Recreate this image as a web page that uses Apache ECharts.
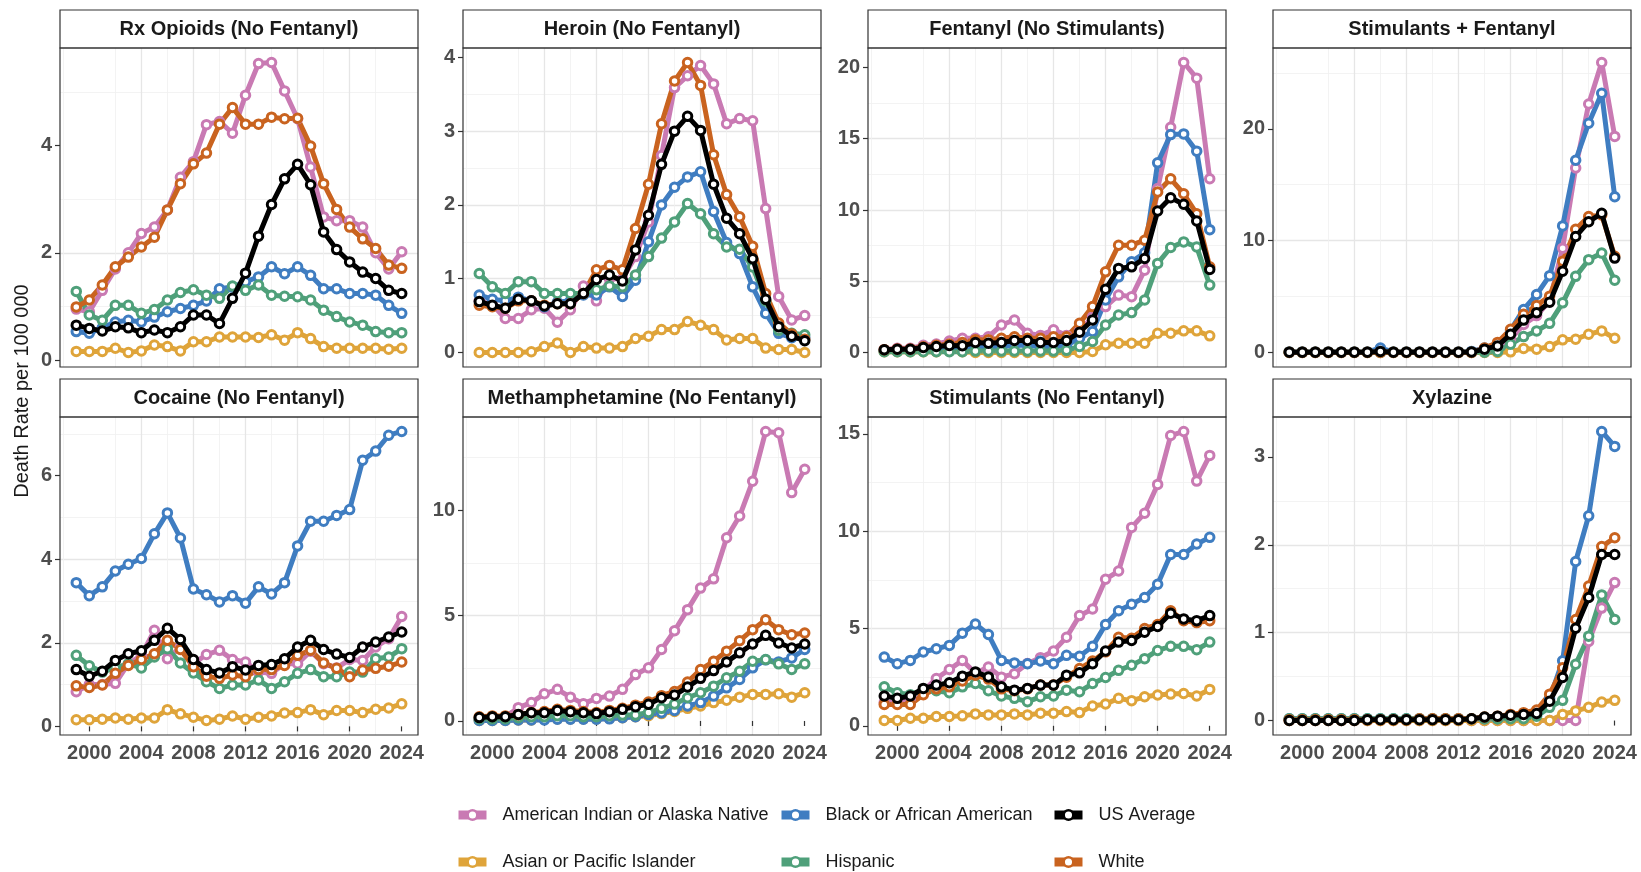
<!DOCTYPE html>
<html><head><meta charset="utf-8">
<script src="https://cdn.jsdelivr.net/npm/echarts@6/dist/echarts.min.js"></script>
<style>html,body{margin:0;padding:0;background:#fff}#c{width:1641px;height:872px}</style>
</head><body><div id="c"></div>
<script>
const years = [1999,2000,2001,2002,2003,2004,2005,2006,2007,2008,2009,2010,2011,2012,2013,2014,2015,2016,2017,2018,2019,2020,2021,2022,2023,2024];
const groups = ['American Indian or Alaska Native','Asian or Pacific Islander','Black or African American','Hispanic','White','US Average'];
const panelTitles = ['Rx Opioids (No Fentanyl)','Heroin (No Fentanyl)','Fentanyl (No Stimulants)','Stimulants + Fentanyl','Cocaine (No Fentanyl)','Methamphetamine (No Fentanyl)','Stimulants (No Fentanyl)','Xylazine'];
const yMajorSteps = [2,1,5,10,2,5,5,1];
const xTickLabels = [2000,2004,2008,2012,2016,2020,2024];
const yAxisTitle = 'Death Rate per 100 000';

// Rx Opioids (No Fentanyl)
const rx_AIAN = [0.95,0.9,1.3,1.7,2.0,2.36,2.48,2.8,3.41,3.7,4.39,4.45,4.23,4.94,5.53,5.55,5.02,4.5,3.6,2.67,2.6,2.6,2.48,2.0,1.7,2.02];
const rx_Asian = [0.16,0.16,0.16,0.22,0.14,0.17,0.28,0.25,0.17,0.34,0.34,0.43,0.43,0.43,0.42,0.47,0.37,0.51,0.40,0.25,0.22,0.22,0.22,0.22,0.20,0.22];
const rx_Black = [0.53,0.50,0.6,0.71,0.74,0.71,0.8,0.9,0.96,1.02,1.1,1.33,1.36,1.46,1.55,1.74,1.61,1.74,1.58,1.33,1.33,1.24,1.24,1.21,1.02,0.87];
const rx_Hisp = [1.28,0.84,0.74,1.02,1.02,0.87,0.94,1.12,1.26,1.31,1.21,1.15,1.38,1.30,1.40,1.21,1.19,1.18,1.12,0.93,0.81,0.71,0.65,0.53,0.51,0.51];
const rx_White = [0.99,1.12,1.40,1.74,1.92,2.11,2.29,2.80,3.29,3.66,3.86,4.40,4.71,4.40,4.40,4.53,4.50,4.51,3.99,3.29,2.81,2.48,2.26,2.08,1.77,1.71];
const rx_US = [0.65,0.59,0.54,0.62,0.60,0.51,0.56,0.51,0.62,0.84,0.84,0.68,1.15,1.62,2.31,2.90,3.38,3.65,3.27,2.39,2.06,1.83,1.64,1.52,1.30,1.24];

// Heroin (No Fentanyl)
const her_AIAN = [0.7,0.65,0.46,0.46,0.58,0.6,0.41,0.58,0.9,0.7,1.0,1.0,1.3,1.77,2.67,3.59,3.75,3.89,3.64,3.10,3.17,3.14,1.95,0.76,0.44,0.50];
const her_Asian = [0,0,0,0,0.01,0.08,0.13,0,0.08,0.06,0.06,0.08,0.19,0.22,0.31,0.31,0.42,0.37,0.31,0.17,0.19,0.19,0.06,0.04,0.04,0];
const her_Black = [0.78,0.72,0.7,0.75,0.7,0.62,0.68,0.7,0.78,0.78,0.89,0.76,0.98,1.5,2.0,2.24,2.38,2.45,1.91,1.49,1.34,0.89,0.53,0.26,0.2,0.2];
const her_Hisp = [1.07,0.89,0.80,0.96,0.96,0.80,0.80,0.80,0.8,0.85,0.9,0.89,1.05,1.30,1.55,1.77,2.02,1.88,1.61,1.43,1.40,1.16,0.7,0.3,0.26,0.24];
const her_White = [0.64,0.62,0.6,0.7,0.7,0.64,0.66,0.66,0.8,1.12,1.18,1.12,1.68,2.28,3.10,3.68,3.93,3.62,2.68,2.14,1.84,1.44,0.80,0.4,0.25,0.18];
const her_US = [0.69,0.64,0.60,0.72,0.70,0.63,0.66,0.66,0.80,0.99,1.05,0.97,1.39,1.86,2.55,3.00,3.20,3.01,2.28,1.82,1.61,1.27,0.72,0.35,0.22,0.16];

// Fentanyl (No Stimulants)
const fen_AIAN = [0.2,0.3,0.3,0.5,0.6,0.8,1.0,1.0,1.1,1.93,2.28,1.35,1.2,1.6,1.2,1.5,2.5,3.22,4.03,3.92,5.78,11.5,15.8,20.35,19.25,12.19];
const fen_Asian = [0.05,0.05,0.05,0.05,0.05,0.1,0.05,0,0,0,0,0,0,0,0,0,0.07,0.54,0.65,0.65,0.65,1.35,1.35,1.52,1.52,1.17];
const fen_Black = [0.1,0.1,0.15,0.2,0.25,0.3,0.35,0.4,0.4,0.4,0.5,0.5,0.4,0.4,0.5,1.0,1.47,3.68,5.31,6.36,7.0,13.31,15.29,15.34,14.13,8.62];
const fen_Hisp = [0.05,0.05,0.05,0.05,0.05,0.05,0.05,0.1,0.1,0.1,0.1,0.1,0.1,0.1,0.15,0.42,0.77,1.93,2.63,2.80,3.68,6.25,7.37,7.76,7.41,4.73];
const fen_White = [0.2,0.25,0.25,0.4,0.5,0.6,0.7,0.9,0.9,1.0,1.1,1.0,1.0,1.1,1.1,2.05,3.22,5.66,7.53,7.53,7.88,11.26,12.19,11.14,9.74,6.01];
const fen_US = [0.19,0.23,0.23,0.35,0.42,0.49,0.47,0.70,0.65,0.70,0.84,0.84,0.70,0.70,0.84,1.42,2.28,4.43,5.90,6.01,6.60,9.93,10.86,10.40,9.23,5.83];

// Stimulants + Fentanyl
const sf_AIAN = [0,0,0,0,0,0,0,0,0,0,0,0,0,0,0,0.1,0.5,1.2,2.5,3.3,4.6,9.33,16.5,22.22,25.93,19.32];
const sf_Asian = [0,0,0,0,0,0,0,0,0,0,0,0,0,0,0,0,0,0.06,0.36,0.30,0.53,1.13,1.19,1.63,1.93,1.27];
const sf_Black = [0.05,0.05,0.05,0.05,0.05,0.05,0.05,0.4,0.05,0.05,0.05,0.05,0.05,0.05,0.1,0.4,0.8,2.0,3.85,5.19,6.87,11.32,17.19,20.50,23.17,13.93];
const sf_Hisp = [0.03,0.03,0.03,0.03,0.03,0.03,0.03,0.03,0.03,0.03,0.03,0.03,0.03,0.03,0.03,0.03,0.1,0.74,1.42,1.93,2.61,4.44,6.81,8.30,8.89,6.46];
const sf_White = [0.03,0.03,0.03,0.03,0.03,0.03,0.03,0.03,0.03,0.03,0.03,0.03,0.03,0.03,0.03,0.4,0.9,2.07,3.41,4.21,5.04,8.15,11.02,12.15,12.3,8.6];
const sf_US = [0.03,0.03,0.03,0.03,0.03,0.03,0.03,0.1,0.03,0.03,0.03,0.03,0.03,0.03,0.05,0.3,0.59,1.63,2.9,3.56,4.5,7.26,10.37,11.7,12.44,8.44];

// Cocaine (No Fentanyl)
const coc_AIAN = [0.83,1.0,1.0,1.03,1.5,1.7,2.30,1.62,1.9,1.5,1.72,1.82,1.60,1.54,1.3,1.27,1.5,1.5,1.8,1.5,1.4,1.6,1.58,1.9,2.1,2.63];
const coc_Asian = [0.16,0.16,0.17,0.20,0.17,0.20,0.20,0.40,0.30,0.22,0.14,0.17,0.25,0.17,0.22,0.25,0.32,0.33,0.40,0.28,0.38,0.38,0.33,0.41,0.44,0.54];
const coc_Black = [3.44,3.13,3.34,3.72,3.88,4.02,4.61,5.11,4.51,3.29,3.15,2.98,3.13,2.95,3.34,3.17,3.44,4.32,4.91,4.91,5.05,5.19,6.37,6.59,6.97,7.06];
const coc_Hisp = [1.70,1.45,1.3,1.4,1.5,1.40,1.66,1.86,1.52,1.28,1.07,0.91,0.99,0.99,1.11,0.91,1.07,1.27,1.36,1.19,1.19,1.3,1.3,1.62,1.66,1.86];
const coc_White = [0.97,0.93,0.99,1.27,1.46,1.60,1.74,2.06,1.84,1.43,1.20,1.15,1.23,1.19,1.36,1.36,1.46,1.70,1.82,1.52,1.39,1.19,1.35,1.39,1.44,1.54];
const coc_US = [1.36,1.20,1.32,1.58,1.74,1.81,2.06,2.35,2.08,1.60,1.36,1.28,1.43,1.35,1.46,1.48,1.62,1.90,2.06,1.84,1.73,1.65,1.90,2.02,2.14,2.26];

// Methamphetamine (No Fentanyl)
const meth_AIAN = [0.1,0.1,0.2,0.63,0.87,1.29,1.50,1.13,0.82,1.07,1.18,1.50,2.20,2.52,3.39,4.28,5.28,6.30,6.74,8.69,9.72,11.37,13.73,13.67,10.83,11.94];
const meth_Asian = [0.02,0.02,0.03,0.05,0.05,0.08,0.1,0.1,0.1,0.1,0.12,0.15,0.2,0.25,0.35,0.45,0.6,0.71,0.87,0.98,1.13,1.26,1.26,1.29,1.13,1.34];
const meth_Black = [0.02,0.02,0.02,0.05,0.05,0.05,0.08,0.08,0.08,0.08,0.1,0.15,0.2,0.31,0.39,0.50,0.71,0.87,1.18,1.57,1.97,2.52,2.9,2.8,2.99,3.39];
const meth_Hisp = [0.1,0.1,0.1,0.15,0.2,0.2,0.25,0.25,0.2,0.2,0.25,0.28,0.28,0.4,0.6,0.8,1.1,1.34,1.65,2.05,2.36,2.83,2.91,2.71,2.44,2.71];
const meth_White = [0.2,0.24,0.24,0.3,0.4,0.45,0.55,0.5,0.45,0.4,0.5,0.6,0.75,0.9,1.2,1.4,1.85,2.44,2.83,3.31,3.81,4.33,4.80,4.33,4.09,4.17];
const meth_US = [0.16,0.2,0.2,0.31,0.39,0.39,0.50,0.44,0.39,0.35,0.44,0.55,0.68,0.79,1.10,1.23,1.61,2.02,2.39,2.80,3.23,3.65,4.06,3.70,3.46,3.65];

// Stimulants (No Fentanyl)
const stim_AIAN = [1.2,1.2,1.4,1.8,2.43,2.89,3.36,2.7,3.02,2.5,2.68,3.2,3.5,3.84,4.55,5.66,6.00,7.53,7.95,10.19,10.92,12.40,14.91,15.12,12.57,13.89];
const stim_Asian = [0.27,0.27,0.39,0.39,0.48,0.48,0.51,0.61,0.56,0.56,0.61,0.56,0.65,0.65,0.73,0.68,1.02,1.12,1.41,1.29,1.49,1.58,1.63,1.66,1.53,1.87];
const stim_Black = [3.53,3.19,3.36,3.79,3.96,4.13,4.76,5.23,4.69,3.36,3.23,3.19,3.33,3.19,3.62,3.57,4.08,5.20,5.91,6.25,6.59,7.27,8.80,8.80,9.34,9.68];
const stim_Hisp = [2.0,1.7,1.6,1.8,1.8,1.70,2.00,2.17,1.80,1.53,1.41,1.24,1.49,1.53,1.83,1.75,2.17,2.48,2.85,3.11,3.45,3.87,4.08,4.08,3.91,4.30];
const stim_White = [1.1,1.1,1.1,1.6,1.9,2.0,2.3,2.6,2.4,1.9,1.8,1.9,2.1,2.1,2.5,2.94,3.33,3.8,4.55,4.5,5.0,5.2,5.91,5.4,5.3,5.4];
const stim_US = [1.53,1.41,1.53,1.92,2.09,2.21,2.55,2.77,2.51,2.00,1.83,1.92,2.09,2.09,2.60,2.72,3.19,3.84,4.30,4.38,4.81,5.10,5.78,5.49,5.40,5.66];

// Xylazine
const xyl_AIAN = [0,0,0,0,0,0,0,0,0,0,0,0,0,0,0,0,0,0,0,0,0,0,0,0.9,1.28,1.57];
const xyl_Asian = [0,0,0,0,0,0,0,0,0,0,0,0,0,0,0,0,0,0,0,0,0,0.07,0.11,0.15,0.21,0.23];
const xyl_Black = [0.02,0.02,0.02,0.02,0.02,0.02,0.02,0.02,0.02,0.02,0.02,0.02,0.02,0.02,0.02,0.02,0.02,0.03,0.05,0.08,0.25,0.68,1.81,2.33,3.29,3.12];
const xyl_Hisp = [0.02,0.02,0.02,0.02,0.02,0.02,0.02,0.02,0.02,0.02,0.02,0.02,0.02,0.02,0.02,0.02,0.02,0.02,0.02,0.05,0.15,0.23,0.64,0.96,1.43,1.15];
const xyl_White = [0.01,0.01,0.01,0.01,0.01,0.01,0.01,0.01,0.01,0.01,0.02,0.02,0.02,0.02,0.02,0.04,0.05,0.07,0.09,0.12,0.3,0.60,1.15,1.53,1.98,2.08];
const xyl_US = [0,0,0,0,0,0,0.01,0.01,0.01,0.01,0.01,0.01,0.01,0.01,0.02,0.04,0.05,0.06,0.07,0.08,0.22,0.49,1.05,1.40,1.89,1.89];

const panelData = [
  [rx_AIAN, rx_Asian, rx_Black, rx_Hisp, rx_White, rx_US],
  [her_AIAN, her_Asian, her_Black, her_Hisp, her_White, her_US],
  [fen_AIAN, fen_Asian, fen_Black, fen_Hisp, fen_White, fen_US],
  [sf_AIAN, sf_Asian, sf_Black, sf_Hisp, sf_White, sf_US],
  [coc_AIAN, coc_Asian, coc_Black, coc_Hisp, coc_White, coc_US],
  [meth_AIAN, meth_Asian, meth_Black, meth_Hisp, meth_White, meth_US],
  [stim_AIAN, stim_Asian, stim_Black, stim_Hisp, stim_White, stim_US],
  [xyl_AIAN, xyl_Asian, xyl_Black, xyl_Hisp, xyl_White, xyl_US]
];

const groupColors = ['#C97AB3','#DFA43A','#3F7DC1','#4FA07A','#C9631F','#000000'];
const FONT = '"Liberation Sans", Arial, sans-serif';
const colLeft = [60, 463, 868, 1273];
const panelW = 358;
const stripTop = [10, 379];
const stripH = 38;
const plotTop = [48, 417];
const plotH = [319, 318];

const grids = [], xAxes = [], yAxes = [], series = [], graphics = [];
for (let i = 0; i < 8; i++) {
  const col = i % 4, row = Math.floor(i / 4);
  grids.push({left: colLeft[col], top: plotTop[row], width: panelW, height: plotH[row], show: false, outerBoundsMode: 'none', containLabel: false});
  const xMajors = xTickLabels.slice();
  xAxes.push({
    type: 'value', gridIndex: i, min: 1997.75, max: 2025.25, minInterval: 4, maxInterval: 4,
    axisLine: {show: false},
    axisTick: {show: row === 1, length: 5, lineStyle: {color: '#333', width: 1.2}, customValues: xMajors},
    axisLabel: {show: row === 1, customValues: xMajors, formatter: v => String(v), fontSize: 20, fontWeight: 'bold', color: '#4d4d4d', fontFamily: FONT, margin: 8},
    splitLine: {show: true, showMinLine: false, showMaxLine: false, lineStyle: {color: '#e6e6e6', width: 1.3}},
    minorTick: {show: false, splitNumber: 2},
    minorSplitLine: {show: true, lineStyle: {color: '#f0f0f0', width: 0.8}}
  });
  const all = [].concat(...panelData[i]);
  const dmin = Math.min(...all), dmax = Math.max(...all), span = dmax - dmin;
  const ymin = dmin - 0.05 * span, ymax = dmax + 0.05 * span;
  const step = yMajorSteps[i];
  const yMajors = [];
  for (let v = Math.ceil(ymin / step) * step; v <= ymax; v += step) yMajors.push(Math.round(v * 1000) / 1000);
  yAxes.push({
    type: 'value', gridIndex: i, min: ymin, max: ymax, minInterval: step, maxInterval: step,
    axisLine: {show: false},
    axisTick: {show: true, length: 5, lineStyle: {color: '#333', width: 1.2}, customValues: yMajors},
    axisLabel: {customValues: yMajors, formatter: v => String(v), fontSize: 20, fontWeight: 'bold', color: '#4d4d4d', fontFamily: FONT, margin: 8},
    splitLine: {show: true, showMinLine: false, showMaxLine: false, lineStyle: {color: '#e6e6e6', width: 1.3}},
    minorTick: {show: false, splitNumber: 2},
    minorSplitLine: {show: true, lineStyle: {color: '#f0f0f0', width: 0.8}}
  });
  groups.forEach((g, k) => {
    const vals = panelData[i][k];
    series.push({
      type: 'line', name: g, xAxisIndex: i, yAxisIndex: i,
      data: years.map((y, j) => [y, vals[j]]),
      symbol: 'circle', symbolSize: 8.5, showSymbol: true,
      lineStyle: {width: 5, color: groupColors[k]},
      itemStyle: {color: '#ffffff', borderColor: groupColors[k], borderWidth: 3},
      emphasis: {disabled: true}, silent: true,
      z: k === 5 ? 4 : 3
    });
  });
  graphics.push({type: 'rect', z: 100, silent: true,
    shape: {x: colLeft[col], y: stripTop[row], width: panelW, height: stripH},
    style: {fill: '#ffffff', stroke: '#333333', lineWidth: 1.2}});
  graphics.push({type: 'text', z: 101, silent: true, x: colLeft[col] + panelW / 2, y: stripTop[row] + stripH / 2,
    style: {text: panelTitles[i], font: 'bold 20px ' + FONT, fill: '#1a1a1a', align: 'center', verticalAlign: 'middle'}});
  graphics.push({type: 'rect', z: 100, silent: true,
    shape: {x: colLeft[col], y: plotTop[row], width: panelW, height: plotH[row]},
    style: {fill: 'none', stroke: '#333333', lineWidth: 1.2}});
}
graphics.push({type: 'text', z: 101, silent: true, x: 22, y: 391, rotation: Math.PI / 2,
  style: {text: yAxisTitle, font: '20px ' + FONT, fill: '#1a1a1a', align: 'center', verticalAlign: 'middle'}});

// legend: 3 columns x 2 rows
const legendCols = [454, 777, 1050];
const legendRows = [806, 853];
const legendOrder = [[0, 1], [2, 3], [5, 4]];
const legends = [];
legendOrder.forEach((pair, c) => {
  pair.forEach((gi, r) => {
    legends.push({
      orient: 'horizontal', left: legendCols[c], top: legendRows[r], padding: 0,
      itemWidth: 28, itemHeight: 12, selectedMode: false,
      lineStyle: {width: 9},
      itemStyle: {borderWidth: 2.5},
      data: [groups[gi]],
      textStyle: {fontSize: 18, color: '#1a1a1a', fontFamily: FONT, padding: [0, 0, 0, 11]}
    });
  });
});

const chart = echarts.init(document.getElementById('c'), null, {renderer: 'canvas'});
chart.setOption({
  animation: false,
  backgroundColor: '#ffffff',
  grid: grids, xAxis: xAxes, yAxis: yAxes, series: series,
  legend: legends, graphic: graphics
});
</script></body></html>
